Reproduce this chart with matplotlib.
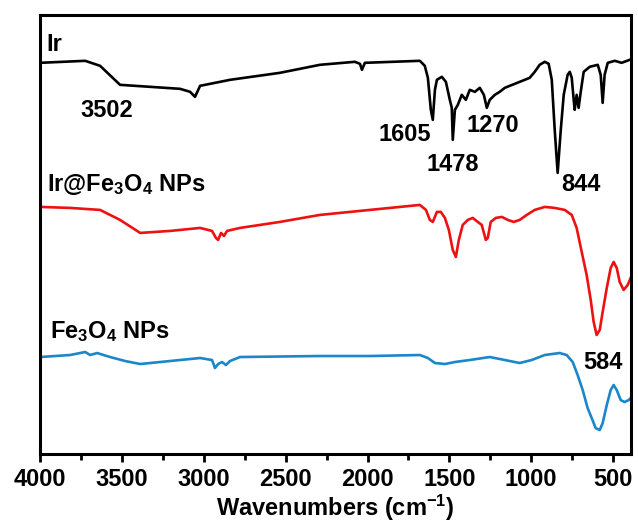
import matplotlib
matplotlib.use("Agg")
import matplotlib.pyplot as plt
from matplotlib.ticker import MultipleLocator

plt.rcParams['font.family'] = ['Liberation Sans', 'DejaVu Sans']
plt.rcParams['font.weight'] = 'bold'
plt.rcParams['mathtext.fontset'] = 'custom'
plt.rcParams['mathtext.rm'] = 'Liberation Sans:bold'
plt.rcParams['mathtext.default'] = 'rm'

## FT-IR spectra, intensities in arbitrary (offset) units
ir_wn = [4000, 3725, 3634, 3512, 3328, 3145, 3084, 3054, 3023, 2840, 2535, 2291,
         2077, 2046, 2034, 2016, 1680, 1650, 1631, 1613, 1601, 1588, 1576, 1546,
         1521, 1497, 1485, 1479, 1466, 1448, 1424, 1399, 1375, 1344, 1314, 1289,
         1271, 1253, 1222, 1192, 1161, 1131, 1100, 1070, 1039, 1009, 978, 948,
         917, 893, 874, 856, 838, 819, 801, 777, 764, 752, 740, 734, 722, 710,
         697, 679, 642, 593, 575, 563, 551, 532, 489, 447, 398]
ir_val = [391, 393, 388, 369, 367, 365, 362, 357, 368, 374, 381, 389,
          392, 390, 384, 391, 393, 388, 376, 344, 334, 364, 374, 377,
          372, 354, 346, 314, 344, 349, 359, 354, 364, 362, 366, 359,
          346, 354, 359, 362, 366, 368, 370, 372, 374, 376, 382, 389,
          392, 390, 374, 324, 281, 324, 359, 379, 382, 376, 354, 344, 359, 346,
          362, 382, 387, 389, 379, 351, 379, 391, 393, 391, 394]

irfe_wn = [4000, 3817, 3634, 3512, 3389, 3206, 3023, 2950, 2926, 2913, 2895, 2877,
           2858, 2779, 2535, 2291, 1985, 1680, 1643, 1619, 1601, 1576, 1552, 1527,
           1503, 1479, 1460, 1442, 1418, 1387, 1357, 1326, 1302, 1277, 1265, 1247,
           1216, 1179, 1143, 1106, 1070, 1027, 978, 917, 856, 795, 752, 722, 691,
           661, 636, 618, 600, 581, 563, 538, 514, 496, 477, 459, 435, 410, 392]
irfe_val = [247, 246, 244, 234, 221, 223, 226, 223, 216, 214, 221, 218,
            223, 226, 232, 239, 244, 249, 244, 234, 232, 242, 242, 236,
            224, 204, 197, 214, 229, 234, 236, 232, 229, 214, 216, 232,
            236, 237, 234, 232, 234, 239, 244, 247, 246, 244, 239, 226, 202,
            179, 154, 132, 119, 124, 142, 166, 186, 192, 186, 172, 164, 169, 176]

fe_wn = [4000, 3908, 3817, 3725, 3695, 3652, 3573, 3481, 3389, 3206, 3023, 2950,
         2932, 2913, 2889, 2865, 2840, 2779, 2291, 1985, 1680, 1631, 1588, 1527,
         1466, 1375, 1253, 1161, 1070, 997, 917, 826, 783, 746, 716, 685, 655,
         630, 606, 581, 563, 538, 514, 496, 477, 453, 429, 404, 392]
fe_val = [97, 98, 99, 102, 99, 101, 97, 93, 90, 93, 96, 94,
          86, 90, 92, 89, 93, 97, 98, 98, 99, 96, 91, 90,
          92, 94, 97, 94, 91, 94, 99, 101, 99, 92, 79, 64, 46,
          36, 26, 24, 31, 49, 64, 69, 64, 54, 52, 54, 56]

fig = plt.figure(figsize=(6.38, 5.28), dpi=100)
ax = fig.add_axes([0.063, 0.14, 0.926, 0.832])

ax.plot(ir_wn, ir_val, color='black', lw=1.9)
ax.plot(irfe_wn, irfe_val, color='#ee1111', lw=1.9)
ax.plot(fe_wn, fe_val, color='#1b87c9', lw=1.9)

ax.set_xlim(4000, 390)
ax.set_ylim(0, 439)
ax.set_yticks([])
ax.xaxis.set_major_locator(MultipleLocator(500))
ax.xaxis.set_minor_locator(MultipleLocator(250))
ax.tick_params(axis='x', which='major', direction='out', length=6, width=2, labelsize=17, pad=4)
ax.tick_params(axis='x', which='minor', direction='out', length=4, width=2)
for s in ax.spines.values():
    s.set_linewidth(2.2)
for lab in ax.get_xticklabels():
    lab.set_fontweight('bold')

ax.set_xlabel('Wavenumbers (cm$^{-1}$)', fontsize=17, fontweight='bold', labelpad=1)

fs = 17
ax.text(3962, 409, 'Ir', fontsize=fs, fontweight='bold', va='center', ha='left')
ax.text(3960, 269, 'Ir@Fe$_3$O$_4$ NPs', fontsize=fs, fontweight='bold', va='center', ha='left')
ax.text(3940, 122, 'Fe$_3$O$_4$ NPs', fontsize=fs, fontweight='bold', va='center', ha='left')

peaks = ['3502', '1605', '1478', '1270', '844', '584']
peak_x = [3590, 1772, 1479, 1235, 693, 563]
peak_y = [343, 319, 289, 328, 269, 92]
for t, px, py in zip(peaks, peak_x, peak_y):
    ax.text(px, py, t, fontsize=fs, fontweight='bold', ha='center', va='center')

fig.savefig('out.png', dpi=100)
